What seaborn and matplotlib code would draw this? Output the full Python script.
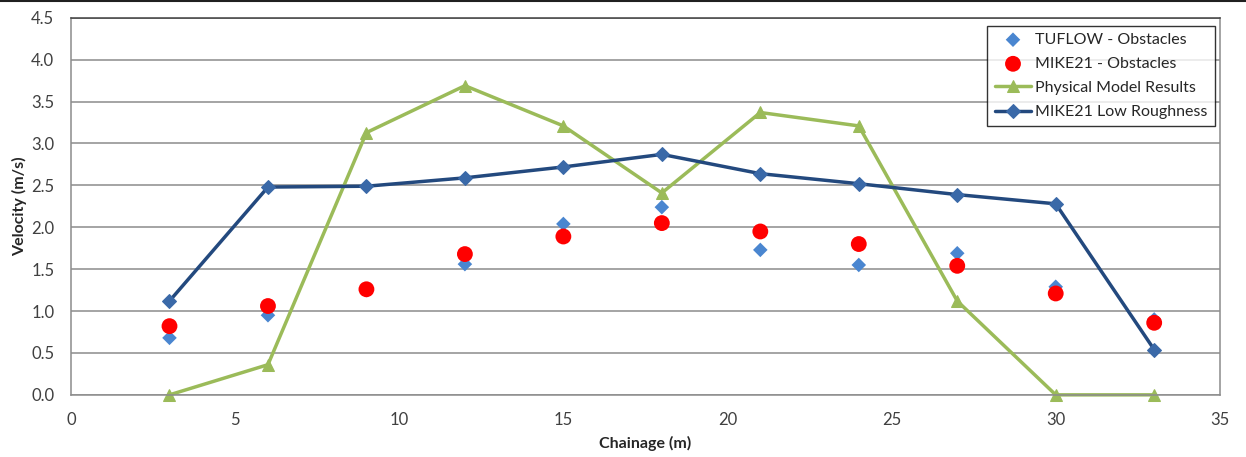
import matplotlib
matplotlib.use("Agg")
import matplotlib.pyplot as plt
import seaborn as sns
import pandas as pd

# Chainage stations (m)
chainage = [3, 6, 9, 12, 15, 18, 21, 24, 27, 30, 33]

# Velocities (m/s)
tuflow_obstacles = [0.68, 0.95, 1.25, 1.56, 2.04, 2.24, 1.73, 1.55, 1.69, 1.29, 0.90]
mike21_obstacles = [0.82, 1.06, 1.26, 1.68, 1.89, 2.05, 1.95, 1.80, 1.54, 1.21, 0.86]
physical_model = [0.0, 0.36, 3.13, 3.69, 3.21, 2.41, 3.37, 3.21, 1.12, 0.0, 0.0]
mike21_low_roughness = [1.12, 2.48, 2.49, 2.59, 2.72, 2.87, 2.64, 2.52, 2.39, 2.28, 0.54]

x_ticks = [0, 5, 10, 15, 20, 25, 30, 35]
y_ticks = [0.0, 0.5, 1.0, 1.5, 2.0, 2.5, 3.0, 3.5, 4.0, 4.5]

df = pd.DataFrame({
    "Chainage": chainage,
    "TUFLOW": tuflow_obstacles,
    "MIKE21": mike21_obstacles,
    "Physical": physical_model,
    "Low": mike21_low_roughness,
})

sns.set_style("white")
plt.rcParams["font.family"] = ["Lato", "DejaVu Sans"]

fig = plt.figure(figsize=(12.46, 4.57), dpi=100)
ax = fig.add_axes([0.057, 0.136, 0.922, 0.825])

sns.scatterplot(data=df, x="Chainage", y="TUFLOW", ax=ax, marker="D", s=55,
                color="#4A86D0", edgecolor="none", label="TUFLOW - Obstacles",
                zorder=3, clip_on=False)
sns.scatterplot(data=df, x="Chainage", y="MIKE21", ax=ax, marker="o", s=130,
                color="#FF0000", edgecolor="none", label="MIKE21 - Obstacles",
                zorder=4, clip_on=False)
sns.lineplot(data=df, x="Chainage", y="Physical", ax=ax, color="#9BBB59", lw=2.5,
             marker="^", markersize=9, markeredgecolor="#9BBB59",
             label="Physical Model Results", zorder=2, clip_on=False)
sns.lineplot(data=df, x="Chainage", y="Low", ax=ax, color="#23497E", lw=2.5,
             marker="D", markersize=7, markerfacecolor="#3A69A8",
             markeredgecolor="#3A69A8", label="MIKE21 Low Roughness", zorder=5,
             clip_on=False)

ax.set_xlim(0, 35)
ax.set_ylim(0, 4.5)
ax.set_xticks(x_ticks)
ax.set_yticks(y_ticks)
ax.set_yticklabels([f"{v:.1f}" for v in y_ticks])
ax.yaxis.grid(True, color="#8C8C8C", lw=1.1)
ax.xaxis.grid(False)
ax.set_axisbelow(True)

for side in ["left", "bottom", "right"]:
    ax.spines[side].set_color("#8C8C8C")
    ax.spines[side].set_linewidth(1.1)
ax.spines["top"].set_color("#404040")
ax.spines["top"].set_linewidth(1.1)

ax.tick_params(axis="both", which="major", direction="out", length=5, width=1,
               color="#8C8C8C", labelsize=12, labelcolor="#404040", pad=7)

ax.set_xlabel("Chainage (m)", fontsize=11.5, fontweight="bold", labelpad=6)
ax.set_ylabel("Velocity (m/s)", fontsize=11.5, fontweight="bold", labelpad=3)

leg = ax.legend(loc="upper right", bbox_to_anchor=(0.9985, 0.988), fontsize=11.5,
                frameon=True, fancybox=False, edgecolor="#000000",
                borderpad=0.45, labelspacing=0.62, handlelength=2.3,
                handletextpad=0.25, borderaxespad=0.2)
leg.get_frame().set_linewidth(1.0)
for t in leg.get_texts():
    t.set_color("#262626")

# thin dark rule along the top edge of the figure
fig.add_artist(plt.Line2D([0, 1], [0.998, 0.998], color="#202020", lw=1.5,
                          transform=fig.transFigure))

fig.savefig("out.png", dpi=100)
